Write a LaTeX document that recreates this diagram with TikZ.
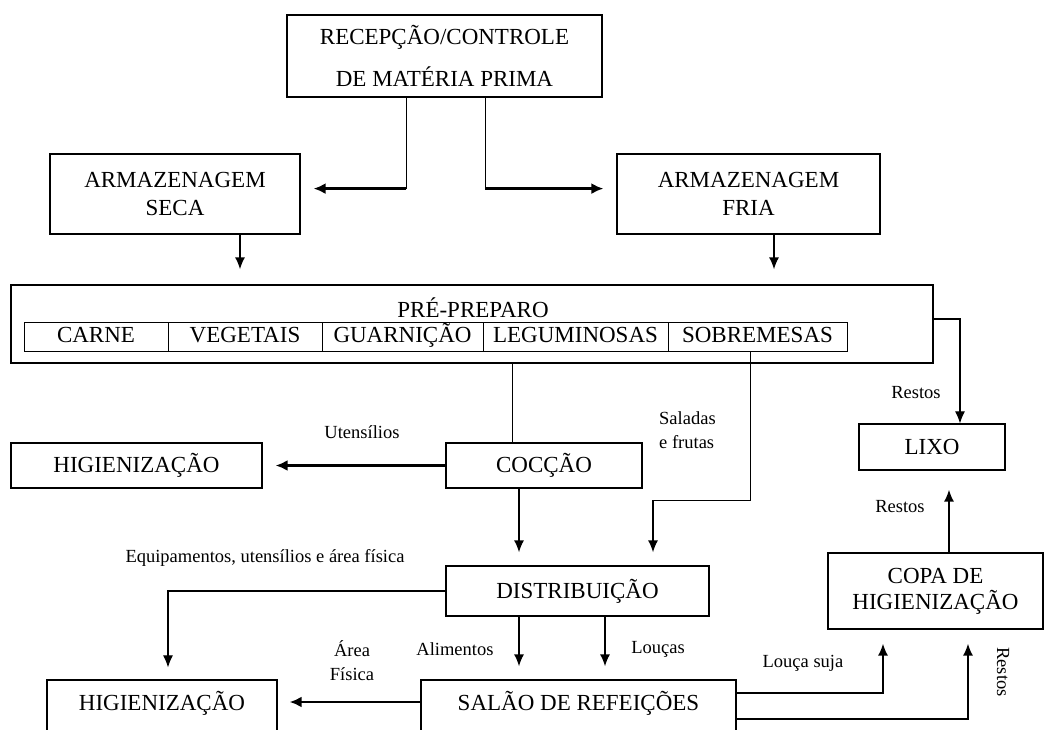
\documentclass[tikz,border=0pt]{standalone}
\usepackage{fontspec}
\setmainfont{Liberation Serif}
\usetikzlibrary{arrows.meta,calc}
\begin{document}
\begin{tikzpicture}[x=1pt,y=-1pt,
  box/.style={draw,line width=1.2pt,inner xsep=0pt,inner ysep=0pt,font=\fontsize{23}{28}\selectfont,align=center},
  cell/.style={draw,line width=1pt,inner sep=0pt,minimum height=29pt,text height=16pt,text depth=5pt,font=\fontsize{23}{28}\selectfont},
  lbl/.style={font=\fontsize{18.5}{24}\selectfont,inner sep=0pt},
  thinline/.style={line width=1pt},
  bigarrow/.style={line width=2.6pt,-{Latex[length=12pt,width=11pt]}},
  arr/.style={line width=1.6pt,-{Latex[length=12pt,width=10pt]}},
  thinarr/.style={line width=1.1pt,-{Latex[length=12pt,width=10pt]}}]
\path[use as bounding box,clip] (0,0) rectangle (1045,729);

% boxes
\node[box,minimum width=315pt,minimum height=82pt,font=\fontsize{23}{42}\selectfont] (rec) at (444.5,56) {RECEPÇÃO/CONTROLE\\DE MATÉRIA PRIMA};
\node[box,minimum width=250pt,minimum height=80pt] (seca) at (175,194) {ARMAZENAGEM\\SECA};
\node[box,minimum width=263pt,minimum height=80pt] (fria) at (748.5,194) {ARMAZENAGEM\\FRIA};
\node[box,minimum width=922pt,minimum height=78pt] (pre) at (472,324) {};
\node[lbl,font=\fontsize{23}{28}\selectfont] (pretitle) at (473,308) {PRÉ-PREPARO};
\node[cell,minimum width=144pt] (carne) at (96,336.5) {CARNE};
\node[cell,minimum width=154pt] (veg) at (245,336.5) {VEGETAIS};
\node[cell,minimum width=161pt] (guar) at (402.5,336.5) {GUARNIÇÃO};
\node[cell,minimum width=185pt] (leg) at (575.5,336.5) {LEGUMINOSAS};
\node[cell,minimum width=179pt] (sob) at (757.5,336.5) {SOBREMESAS};
\node[box,minimum width=146pt,minimum height=46pt] (lixo) at (932,447) {LIXO};
\node[box,minimum width=251pt,minimum height=45pt] (hig1) at (136.5,465.5) {HIGIENIZAÇÃO};
\node[box,minimum width=196pt,minimum height=45pt] (coc) at (544,465.5) {COCÇÃO};
\node[box,minimum width=263pt,minimum height=50pt] (dist) at (577.5,591) {DISTRIBUIÇÃO};
\node[box,minimum width=215pt,minimum height=76pt,font=\fontsize{23}{26}\selectfont] (copa) at (935.5,591) {COPA DE\\HIGIENIZAÇÃO};
\node[box,minimum width=230pt,text height=30pt,text depth=30pt] (hig2) at (162,710) {HIGIENIZAÇÃO};
\node[box,minimum width=315pt,text height=30pt,text depth=30pt] (salao) at (578.5,710) {SALÃO DE REFEIÇÕES};

% connectors
\draw[thinline] ([xshift=-38.5pt]rec.south) -- ++(0,91) coordinate (a1);
\draw[bigarrow,shorten >=13pt] (a1) -- (a1 -| seca.east);
\draw[thinline] ([xshift=40.5pt]rec.south) -- ++(0,91) coordinate (a2);
\draw[bigarrow,shorten >=13pt] (a2) -- (a2 -| fria.west);

\draw[arr,shorten >=15pt] ([xshift=65pt]seca.south) -- ([xshift=65pt]seca.south |- pre.north);
\draw[arr,shorten >=15pt] ([xshift=25.5pt]fria.south) -- ([xshift=25.5pt]fria.south |- pre.north);

\draw[thinline] ([xshift=-32pt]coc.north |- pre.south) -- ([xshift=-32pt]coc.north);
\draw[bigarrow,shorten >=13pt] (coc.west) -- (hig1.east);
\node[lbl] (uten) at (362,432) {Utensílios};

\coordinate (s2) at ($([xshift=75.5pt]dist.north)+(0,-65)$);
\draw[thinline] ([xshift=-7.5pt]sob.south) |- (s2);
\draw[arr,shorten >=13pt] (s2) -- (s2 |- dist.north);
\node[lbl,align=left,anchor=west] (sal) at (659,430) {Saladas\\e frutas};

\draw[arr,shorten >=13pt] ([xshift=-25pt]coc.south) -- ([xshift=-25pt]coc.south |- dist.north);

\draw[thinarr] ([yshift=5pt]pre.east) -| ([xshift=28pt]lixo.north);
\node[lbl] (rest1) at (916,393) {Restos};

\draw[arr,shorten >=19pt] ([xshift=13.5pt]copa.north) -- ([xshift=13.5pt]copa.north |- lixo.south);
\node[lbl] (rest2) at (900,507) {Restos};

\draw[thinarr,shorten >=12pt] (dist.west) -| ([xshift=6pt]hig2.north);
\node[lbl] (equip) at (265,558) {Equipamentos, utensílios e área física};

\draw[arr,shorten >=13pt] ([xshift=-59.5pt]salao.north |- dist.south) -- ([xshift=-59.5pt]salao.north);
\draw[arr,shorten >=13pt] ([xshift=26.5pt]salao.north |- dist.south) -- ([xshift=26.5pt]salao.north);
\node[lbl] (alim) at (455,649) {Alimentos};
\node[lbl] (louc) at (658,649) {Louças};

\draw[bigarrow,shorten >=12pt] ([yshift=8pt]salao.west) -- ([yshift=8pt]hig2.east);
\node[lbl,align=center] (area) at (352,661) {Área\\Física};

\draw[arr,shorten >=14pt] ([yshift=17pt]salao.east) -| ([xshift=-52.5pt]copa.south);
\draw[arr,shorten >=14pt] ([yshift=-9pt]salao.east) -| ([xshift=32.5pt]copa.south);
\node[lbl] (lsuja) at (803,663) {Louça suja};
\node[lbl,rotate=-90] (rest3) at (1003,672) {Restos};
\end{tikzpicture}
\end{document}
